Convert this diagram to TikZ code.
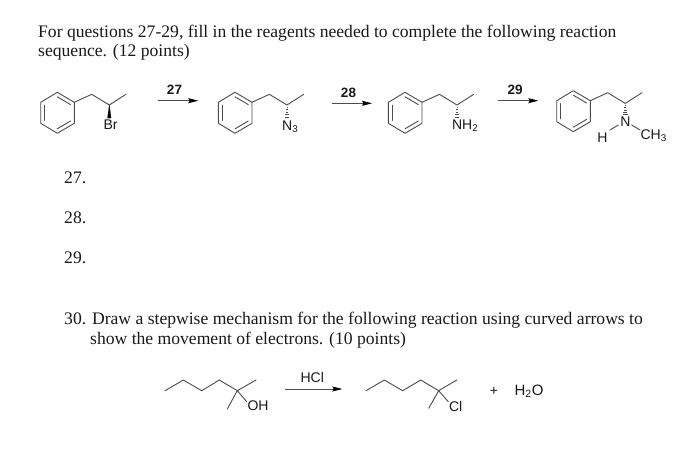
\documentclass[tikz,border=0pt]{standalone}
\usepackage{fontspec}
\setmainfont{Liberation Serif}
\setsansfont{Liberation Sans}
\usetikzlibrary{arrows.meta}
\definecolor{bondc}{gray}{0.3}
\definecolor{inkc}{gray}{0.1}
\tikzset{
  bond/.style={draw=bondc,line width=0.9pt,line cap=round,line join=round},
  rxn/.style={draw=bondc,line width=0.8pt,-{Stealth[length=10pt,width=5pt,inset=1.5pt,color=black]}},
  wedgeb/.style={fill=black,draw=black,line width=0.2pt},
  hashb/.style={draw=bondc,line width=0.6pt},
  qtext/.style={anchor=base west,inner sep=0pt,font=\fontsize{17.6}{20}\selectfont,text=inkc},
  atom/.style={inner sep=0pt,font=\sffamily\fontsize{14}{16}\selectfont,text=inkc},
  rlabel/.style={inner sep=0pt,font=\sffamily\bfseries\fontsize{13.5}{15}\selectfont,text=inkc}
}
\newcommand{\PhChain}[1]{%
  \coordinate (#1t) at (57.3,92.3);
  \coordinate (#1ur) at (74.3,102.3);
  \coordinate (#1lr) at (74.3,123.3);
  \coordinate (#1b) at (57.3,133.3);
  \coordinate (#1ll) at (40.7,123.3);
  \coordinate (#1ul) at (40.7,102.3);
  \coordinate (#1c1) at (91.7,94.3);
  \coordinate (#1c2) at (109.3,105);
  \coordinate (#1c3) at (126,94.3);
  \draw[bond] (#1t) -- (#1ur) -- (#1lr) -- (#1b) -- (#1ll) -- (#1ul) -- cycle;
  \draw[bond] (57.3,96.8) -- (70.6,104.6);
  \draw[bond] (57.3,128.8) -- (70.6,121);
  \draw[bond] (44.6,105.2) -- (44.6,120.4);
  \draw[bond] (#1ur) -- (#1c1) -- (#1c2) -- (#1c3);
}
\newcommand{\HashTo}[3]{%
  \foreach \i in {0,...,4}{
    \pgfmathsetmacro{\yy}{#2+(#3-#2)*\i/4}
    \pgfmathsetmacro{\hw}{0.5+0.45*\i}
    \draw[hashb] (#1-\hw,\yy) -- (#1+\hw,\yy);
  }
}
\begin{document}
\begin{tikzpicture}[x=1pt,y=-1pt]
\useasboundingbox (0,0) rectangle (700,450);
\fill[white] (0,0) rectangle (700,450);

\node[qtext] (q1) at (38,37.5) {For questions 27-29, fill in the reagents needed to complete the following reaction};
\node[qtext] (q2) at (38,56.5) {sequence. (12 points)};
\node[qtext] (n27) at (64,183) {27.};
\node[qtext] (n28) at (64,223) {28.};
\node[qtext] (n29) at (64,263) {29.};
\node[qtext] (q3) at (64,324) {30. Draw a stepwise mechanism for the following reaction using curved arrows to};
\node[qtext] (q4) at (90,344) {show the movement of electrons. (10 points)};

\begin{scope}
  \PhChain{a}
  \fill[wedgeb] (ac2) -- (107.5,118) -- (111.1,118) -- cycle;
  \node[atom] (br) at (110.5,125) {Br};
\end{scope}
\begin{scope}[shift={(177.7,0)}]
  \PhChain{b}
  \HashTo{109.3}{107}{117}
  \node[atom] (n3) at (112.5,126.5) {N\textsubscript{3}};
\end{scope}
\begin{scope}[shift={(347.7,0)}]
  \PhChain{c}
  \HashTo{109.3}{107}{117}
  \node[atom] (nh2) at (117.5,126) {NH\textsubscript{2}};
\end{scope}
\begin{scope}[shift={(516,-1.6)}]
  \PhChain{d}
  \HashTo{109.3}{107}{116}
  \node[atom] (nn) at (109.3,123.5) {N};
  \node[atom] (hh) at (86.3,138.8) {H};
  \node[atom] (ch3) at (137.7,137.3) {CH\textsubscript{3}};
  \draw[bond] (102.3,126.6) -- (94,131.6);
  \draw[bond] (115.7,126.6) -- (124,131.6);
\end{scope}

\coordinate (a1s) at (157.7,100.7); \coordinate (a1e) at (198.3,100.7);
\coordinate (a2s) at (331.7,103.3); \coordinate (a2e) at (372,103.3);
\coordinate (a3s) at (497.7,100.7); \coordinate (a3e) at (538.3,100.7);
\draw[rxn] (a1s) -- (a1e);
\draw[rxn] (a2s) -- (a2e);
\draw[rxn] (a3s) -- (a3e);
\node[rlabel] (l27) at (174.5,90) {27};
\node[rlabel] (l28) at (348.5,92.5) {28};
\node[rlabel] (l29) at (515,90) {29};

\coordinate (p1) at (165,390.7);
\coordinate (p2) at (183.3,380);
\coordinate (p3) at (201.7,390.7);
\coordinate (p4) at (219.3,380);
\coordinate (p5) at (237.3,390.7);
\coordinate (p6) at (256,380);
\coordinate (p7) at (227.3,409);
\coordinate (p8) at (246.7,401.7);
\draw[bond] (p1) -- (p2) -- (p3) -- (p4) -- (p5) -- (p6);
\draw[bond] (p7) -- (p5) -- (p8);
\node[atom] (oh) at (258,406) {OH};

\coordinate (s1) at (366,390.7);
\coordinate (s2) at (384.3,380);
\coordinate (s3) at (402.7,390.7);
\coordinate (s4) at (420.7,380);
\coordinate (s5) at (438.7,390.7);
\coordinate (s6) at (456.7,380);
\coordinate (s7) at (428.7,408.3);
\coordinate (s8) at (448.3,401.7);
\draw[bond] (s1) -- (s2) -- (s3) -- (s4) -- (s5) -- (s6);
\draw[bond] (s7) -- (s5) -- (s8);
\node[atom] (cl) at (455.7,406) {Cl};

\coordinate (a4s) at (285,389); \coordinate (a4e) at (342.3,389);
\draw[rxn] (a4s) -- (a4e);
\node[atom] (hcl) at (312.3,377.5) {HCl};
\node[atom] (plus) at (494,391.5) {+};
\node[atom,font=\sffamily\fontsize{15}{17}\selectfont] (h2o) at (529,391) {H\textsubscript{2}O};
\end{tikzpicture}
\end{document}
